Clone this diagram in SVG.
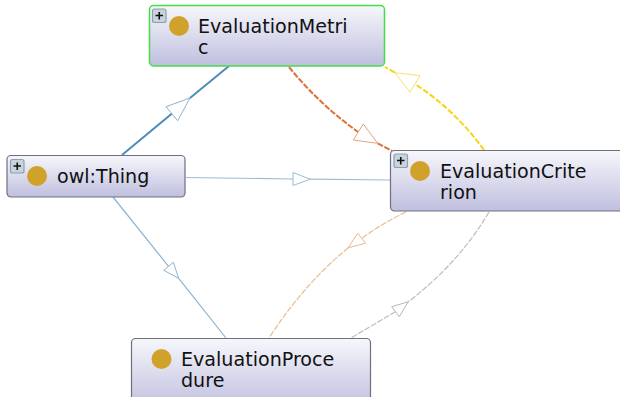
<svg xmlns="http://www.w3.org/2000/svg" width="620" height="399" viewBox="0 0 620 399">
<style>
.box{fill:url(#nodeFill);stroke:#6f6f80;stroke-width:1.2}
.sel{stroke:#48dc48;stroke-width:1.5}
.dot{fill:#d0a22c}
.t{font-family:"DejaVu Sans",sans-serif;font-size:19.1px;fill:#111}
.edge{fill:none}
.head{fill:#fff;stroke-width:.9}
.btn{fill:#c9d3dc;stroke:#8ea0b0;stroke-width:1.2}
.pl{stroke:#111;stroke-width:1.6;fill:none}
</style>
<defs>
<linearGradient id="nodeFill" x1="0" y1="0" x2="0" y2="1">
<stop offset="0" stop-color="#f6f7fb"/>
<stop offset="1" stop-color="#bfbfdf"/>
</linearGradient>
<clipPath id="cut"><rect x="0" y="0" width="620" height="397"/></clipPath>
</defs>
<rect width="620" height="399" fill="#fff"/>
<g id="connectors">
<path class="edge" d="M122 155L172 113.5M190 98L229 66" stroke="#4d8cba" stroke-width="2"/>
<polygon class="head" points="190,98 166,106.7 177.7,120.7" stroke="#7fa9c9"/>
<path class="edge" d="M186 177.5L293 179M310 179.2L390 180" stroke="#9dbdd4" stroke-width="1.2"/>
<polygon class="head" points="310,179.2 293,172.5 293,185.5" stroke="#8fb3cf"/>
<path class="edge" d="M113 197L168.5 266.3M178.7 278.3L226 338" stroke="#8fb3cf" stroke-width="1.2"/>
<polygon class="head" points="178.7,278.3 173.3,262.3 163.7,270.3" stroke="#7fa9c9"/>
<path class="edge" d="M289 67Q318 103 358 132M377.7 143.3L392 151" stroke="#d9733a" stroke-width="2" stroke-dasharray="6 1.5"/>
<polygon class="head" points="377.7,143.3 363.3,124 353.3,140" stroke="#dd9a70"/>
<path class="edge" d="M484 150Q455 110 415 84M395 72.7L385 67" stroke="#f8d414" stroke-width="2" stroke-dasharray="6 2"/>
<polygon class="head" points="395,72.7 420,75.7 410,92.3" stroke="#f6dc60"/>
<path class="edge" d="M406 212Q383 223 361.7 238.3M348.3 247.7Q304 284 269 338" stroke="#e8bd92" stroke-width="1.2" stroke-dasharray="6 1.5"/>
<polygon class="head" points="348.3,247.7 357.700,233.3 365.7,243.3" stroke="#e3b07f"/>
<path class="edge" d="M489 212Q459 263 408.3 301.7M395.5 311.7L351 338" stroke="#bdbdbd" stroke-width="1.2" stroke-dasharray="6 1.5"/>
<polygon class="head" points="408.3,301.700 391.7,306.7 399.3,316.7" stroke="#aeaeae"/>
</g>
<g id="node-metric">
<rect class="box sel" x="149.500" y="5.500" width="235" height="60.500" rx="4"/>
<rect class="btn" x="152.500" y="9" width="13.500" height="13.500" rx="2"/>
<path class="pl" d="M155.500 15.500H163M159.250 12V19.500"/>
<circle class="dot" cx="179" cy="26" r="10"/>
<text class="t" x="198" y="32.500">EvaluationMetri</text>
<text class="t" x="198" y="53.500">c</text>
</g>
<g id="node-thing">
<rect class="box" x="7" y="155.500" width="178" height="41.500" rx="4"/>
<rect class="btn" x="10.500" y="159.500" width="13.500" height="13.500" rx="2"/>
<path class="pl" d="M13.500 166H21M17.250 162.500V170"/>
<circle class="dot" cx="37" cy="176" r="10"/>
<text class="t" x="57" y="182.500">owl:Thing</text>
</g>
<g id="node-criterion">
<rect class="box" x="390.500" y="150.500" width="240" height="60.500" rx="4"/>
<rect class="btn" x="394" y="154" width="13.500" height="13.500" rx="2"/>
<path class="pl" d="M397 160.500H404.500M400.750 157V164.500"/>
<circle class="dot" cx="420" cy="171" r="10"/>
<text class="t" x="440" y="177.500">EvaluationCrite</text>
<text class="t" x="440" y="198.500">rion</text>
</g>
<g id="node-procedure" clip-path="url(#cut)">
<rect class="box" x="131.500" y="338.500" width="239" height="70" rx="4"/>
<circle class="dot" cx="161.500" cy="359" r="10"/>
<text class="t" x="181" y="365.500">EvaluationProce</text>
<text class="t" x="181" y="386.500">dure</text>
</g>
</svg>
